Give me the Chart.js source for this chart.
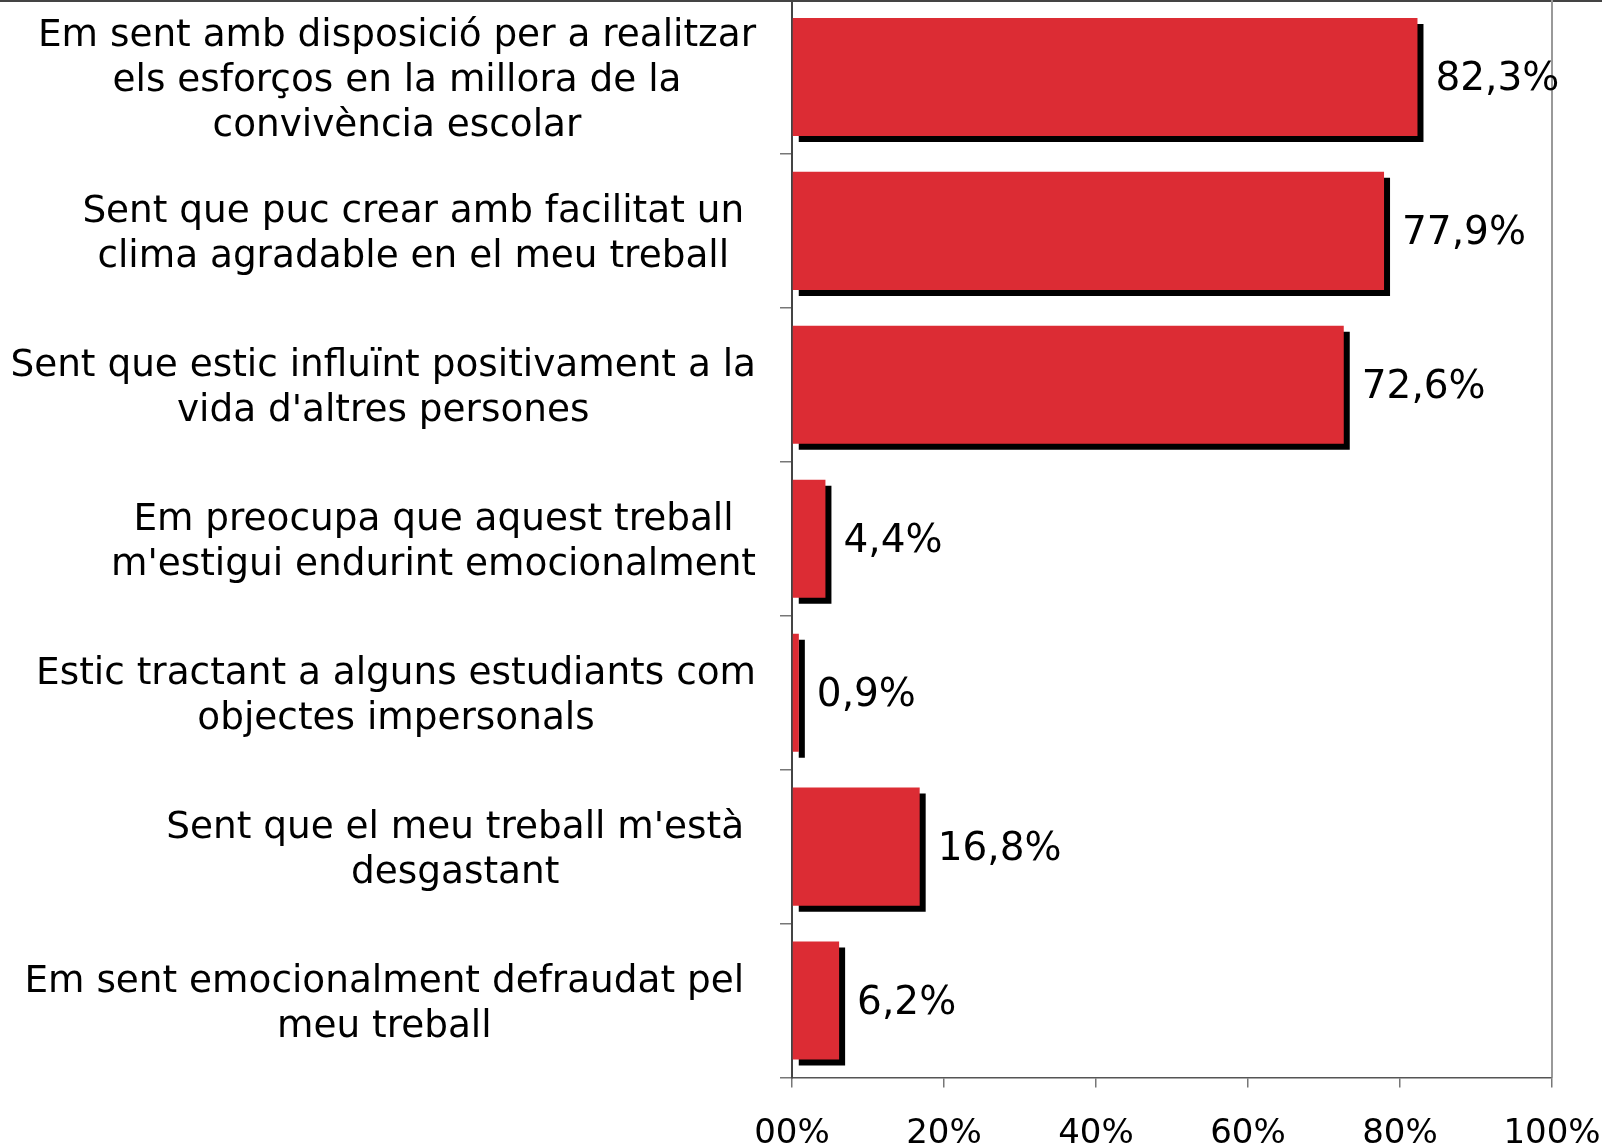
<!DOCTYPE html>
<html>
<head>
<meta charset="utf-8">
<script src="https://cdn.jsdelivr.net/npm/chart.js@4"></script>
<style>
  html, body { margin: 0; padding: 0; background: #fff; }
  #wrap { width: 1602px; height: 1144px; }
</style>
</head>
<body>
<div id="wrap"><canvas id="chart" width="1602" height="1144"></canvas></div>
<script>
// category labels, already wrapped the way the original shows them
const categories = [
  ['Em sent amb disposició per a realitzar', 'els esforços en la millora de la', 'convivència escolar'],
  ['Sent que puc crear amb facilitat un ', 'clima agradable en el meu treball'],
  ['Sent que estic influïnt positivament a la', 'vida d\'altres persones'],
  ['Em preocupa que aquest treball', 'm\'estigui endurint emocionalment'],
  ['Estic tractant a alguns estudiants com', 'objectes impersonals'],
  ['Sent que el meu treball m\'està ', 'desgastant'],
  ['Em sent emocionalment defraudat pel ', 'meu treball']
];
const values = [82.3, 77.9, 72.6, 4.4, 0.9, 16.8, 6.2];
const xMin = 0, xMax = 100, xStep = 20;

const FONT = 'DejaVu Sans';
const barColor = '#dc2c34';

const fmtValue = v => v.toFixed(1).replace('.', ',') + '%';
const fmtTick = v => (v < 10 ? '0' + v : '' + v) + '%';

// hard black drop shadow behind the bars
const shadowPlugin = {
  id: 'barShadow',
  beforeDatasetsDraw(chart) {
    const ctx = chart.ctx;
    ctx.save();
    ctx.shadowColor = '#000';
    ctx.shadowBlur = 0;
    ctx.shadowOffsetX = 6;
    ctx.shadowOffsetY = 6;
  },
  afterDatasetsDraw(chart) {
    chart.ctx.restore();
  }
};

// frame lines, category labels and value labels
const labelPlugin = {
  id: 'labels',
  afterDraw(chart) {
    const ctx = chart.ctx;
    const area = chart.chartArea;
    const yScale = chart.scales.y;
    ctx.save();

    // top line across the whole picture and right edge of the plot
    ctx.strokeStyle = '#444';
    ctx.lineWidth = 2;
    ctx.beginPath();
    ctx.moveTo(0, 1);
    ctx.lineTo(chart.width, 1);
    ctx.stroke();
    ctx.strokeStyle = '#999';
    ctx.beginPath();
    ctx.moveTo(area.right, 0);
    ctx.lineTo(area.right, area.bottom);
    ctx.stroke();

    // category labels: centred lines, block right-aligned
    ctx.fillStyle = '#000';
    ctx.font = '37.4px "' + FONT + '"';
    ctx.textAlign = 'center';
    ctx.textBaseline = 'middle';
    const right = 756, lineH = 45;
    categories.forEach((lines, i) => {
      const cy = yScale.getPixelForValue(i) + 4;
      let wide = 0, wideTrim = 0;
      lines.forEach(l => {
        const w = ctx.measureText(l).width;
        if (w > wide) { wide = w; wideTrim = ctx.measureText(l.trimEnd()).width; }
      });
      const cx = right - (wide - wideTrim) - wideTrim / 2;
      lines.forEach((l, j) => {
        ctx.fillText(l.trimEnd(), cx, cy + (j - (lines.length - 1) / 2) * lineH);
      });
    });

    // value labels after each bar
    ctx.font = '39px "' + FONT + '"';
    ctx.textAlign = 'left';
    const meta = chart.getDatasetMeta(0);
    meta.data.forEach((bar, i) => {
      ctx.fillText(fmtValue(values[i]), bar.x + 18, bar.y + 3);
    });
    ctx.restore();
  }
};

new Chart(document.getElementById('chart').getContext('2d'), {
  type: 'bar',
  data: {
    labels: categories.map(c => c.join(' ')),
    datasets: [{
      data: values,
      backgroundColor: barColor,
      borderWidth: 0,
      barPercentage: 0.767,
      categoryPercentage: 1
    }]
  },
  options: {
    indexAxis: 'y',
    responsive: false,
    animation: false,
    layout: { padding: 0 },
    plugins: {
      legend: { display: false },
      tooltip: { enabled: false }
    },
    scales: {
      x: {
        min: xMin,
        max: xMax,
        ticks: {
          stepSize: xStep,
          callback: v => fmtTick(v),
          font: { family: FONT, size: 34 },
          color: '#000',
          padding: 26,
          maxRotation: 0,
          autoSkip: false
        },
        grid: { drawOnChartArea: false, tickLength: 10, color: '#777', lineWidth: 1.5 },
        border: { color: '#555', width: 1.5 },
        afterFit: s => {
          s.height = 66.5;
          s.paddingLeft = 0;
          s.paddingRight = 50;
        }
      },
      y: {
        ticks: { display: false },
        grid: { drawOnChartArea: false, tickLength: 12, color: '#777', lineWidth: 1.5, offset: true },
        border: { color: '#444', width: 2 },
        afterFit: s => {
          s.width = 792;
          s.paddingTop = 0;
          s.paddingBottom = 0;
        }
      }
    }
  },
  plugins: [shadowPlugin, labelPlugin]
});
</script>
</body>
</html>
